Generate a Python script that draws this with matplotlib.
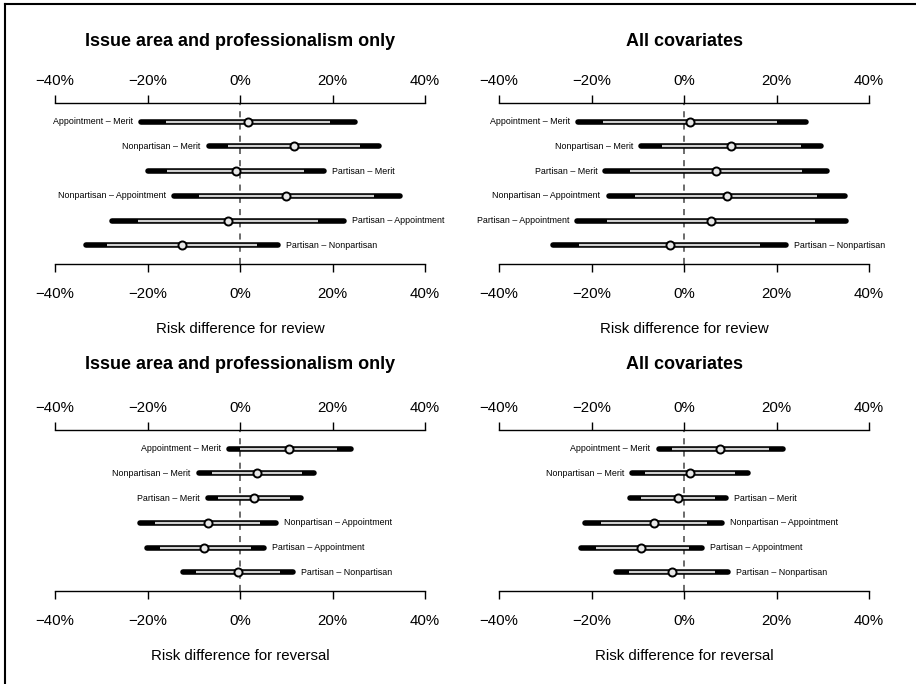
import numpy as np
import matplotlib.pyplot as plt
from matplotlib.lines import Line2D

plt.rcParams['font.family'] = ['Liberation Sans', 'DejaVu Sans']

contrasts = ["Appointment \u2013 Merit", "Nonpartisan \u2013 Merit", "Partisan \u2013 Merit",
             "Nonpartisan \u2013 Appointment", "Partisan \u2013 Appointment",
             "Partisan \u2013 Nonpartisan"]
ticks = [-40, -20, 0, 20, 40]
tick_labels = ["\u221240%", "\u221220%", "0%", "20%", "40%"]

titles = ["Issue area and professionalism only", "All covariates",
          "Issue area and professionalism only", "All covariates"]
xlabels = ["Risk difference for review", "Risk difference for review",
           "Risk difference for reversal", "Risk difference for reversal"]

# review, issue area + professionalism
rev1_est = [1.7, 11.7, -0.9, 10.0, -2.5, -12.5]
rev1_lo95 = [-21.3, -6.8, -20.0, -14.3, -27.7, -33.4]
rev1_hi95 = [24.9, 30.1, 18.2, 34.7, 22.5, 8.3]
rev1_lo50 = [-16.1, -2.5, -15.7, -8.9, -22.0, -28.7]
rev1_hi50 = [19.5, 25.9, 13.8, 29.0, 16.9, 3.6]

# review, all covariates
rev2_est = [1.2, 10.2, 6.9, 9.2, 5.8, -3.1]
rev2_lo95 = [-23.0, -9.3, -17.0, -16.3, -23.1, -28.3]
rev2_hi95 = [26.4, 29.6, 30.9, 34.8, 35.0, 22.0]
rev2_lo50 = [-17.5, -4.8, -11.7, -10.6, -16.6, -22.6]
rev2_hi50 = [20.0, 25.2, 25.6, 28.8, 28.3, 16.4]

# reversal, issue area + professionalism
rvs1_est = [10.7, 3.6, 3.0, -6.9, -7.8, -0.4]
rvs1_lo95 = [-2.4, -8.9, -7.0, -21.7, -20.2, -12.3]
rvs1_hi95 = [24.0, 16.1, 13.2, 7.8, 5.1, 11.4]
rvs1_lo50 = [0.1, -6.1, -4.7, -18.4, -17.4, -9.6]
rvs1_hi50 = [21.0, 13.3, 10.8, 4.3, 2.3, 8.6]

# reversal, all covariates
rvs2_est = [7.8, 1.3, -1.3, -6.5, -9.2, -2.5]
rvs2_lo95 = [-5.5, -11.2, -11.6, -21.3, -22.2, -14.6]
rvs2_hi95 = [21.3, 13.8, 9.1, 8.3, 3.9, 9.6]
rvs2_lo50 = [-2.5, -8.4, -9.2, -17.9, -19.1, -11.9]
rvs2_hi50 = [18.4, 11.0, 6.7, 5.0, 1.1, 6.8]

panels = [
    (rev1_est, rev1_lo95, rev1_hi95, rev1_lo50, rev1_hi50),
    (rev2_est, rev2_lo95, rev2_hi95, rev2_lo50, rev2_hi50),
    (rvs1_est, rvs1_lo95, rvs1_hi95, rvs1_lo50, rvs1_hi50),
    (rvs2_est, rvs2_lo95, rvs2_hi95, rvs2_lo50, rvs2_hi50),
]

W, H = 916, 684
fig = plt.figure(figsize=(W / 100, H / 100), dpi=100)

# panel boxes in pixels: left, top axis line, bottom axis line
boxes = [(55, 103, 264), (499, 103, 264), (55, 430, 591), (499, 430, 591)]

rows = np.arange(1, len(contrasts) + 1)
for k, (est, lo95, hi95, lo50, hi50) in enumerate(panels):
    left, top, bot = boxes[k]
    ax = fig.add_axes([left / W, 1 - bot / H, 370 / W, (bot - top) / H])
    ax.set_xlim(-40, 40)
    ax.set_ylim(6.75, 0.25)

    ax.axvline(0, color='#444444', lw=1.1, ls=(0, (4, 4)), zorder=1)
    for i, y in enumerate(rows):
        ax.plot([lo95[i], hi95[i]], [y, y], color='black', lw=4.0,
                solid_capstyle='round', zorder=2)
        ax.plot([lo50[i], hi50[i]], [y, y], color='#cfcfcf', lw=1.6,
                solid_capstyle='butt', zorder=3)
        ax.plot(est[i], y, 'o', ms=5.8, mfc='#e8e8e8', mec='black', mew=1.4,
                zorder=4)
        if est[i] > 0:
            ax.annotate(contrasts[i], (lo95[i], y), xytext=(-8, 0),
                        textcoords='offset pixels', ha='right', va='center',
                        fontsize=6.4)
        else:
            ax.annotate(contrasts[i], (hi95[i], y), xytext=(8, 0),
                        textcoords='offset pixels', ha='left', va='center',
                        fontsize=6.4)

    for side in ['left', 'right']:
        ax.spines[side].set_visible(False)
    for side in ['top', 'bottom']:
        ax.spines[side].set_linewidth(1.0)
    ax.set_yticks([])
    ax.set_xticks(ticks)
    ax.set_xticklabels(tick_labels)
    ax.tick_params(axis='x', top=True, labeltop=True, bottom=True, labelbottom=True,
                   direction='out', length=6, width=1.0, labelsize=10.8)
    for t in ax.xaxis.get_major_ticks():
        t.set_pad(5)
        t.label1.set_y(-0.045)
    ax.set_xlabel(xlabels[k], fontsize=10.8, labelpad=15.5)
    ax.set_title(titles[k], fontsize=13.0, fontweight='bold',
                 pad=20 if k < 2 else 23)

# frame on the top and left edges
fig.add_artist(Line2D([5 / W, 1], [1 - 4 / H, 1 - 4 / H], color='black', lw=1.5,
                      transform=fig.transFigure))
fig.add_artist(Line2D([5 / W, 5 / W], [0, 1 - 4 / H], color='black', lw=1.5,
                      transform=fig.transFigure))

fig.savefig("out.png", dpi=100)
